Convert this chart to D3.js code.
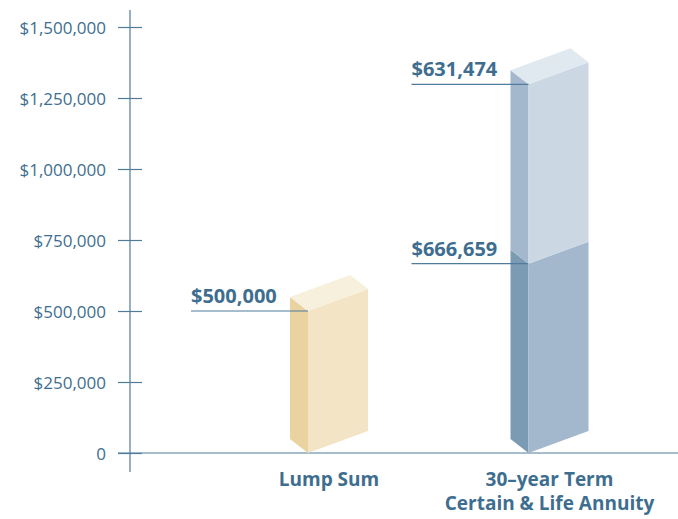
<!DOCTYPE html>
<html>
<head>
<meta charset="utf-8">
<script src="https://cdn.jsdelivr.net/npm/d3@7"></script>
<style>
  body { margin: 0; background: #fff; }
  svg { display: block; font-family: "Open Sans", "Noto Sans", sans-serif; }
</style>
</head>
<body>
<div id="chart"></div>
<script>
// values
const categories = ["Lump Sum", "30–year Term|Certain & Life Annuity"];
const lumpSum = [500000];
const annuity = [666659, 631474];   // bottom segment, top segment
const yTicks = [0, 250000, 500000, 750000, 1000000, 1250000, 1500000];

const width = 678, height = 519;
const textColor = "#3e6e8f";
const axisColor = "#4f7c9b";

// face colours per segment: front, side, top
const palettes = [
  [{ front: "#f2e4c5", side: "#e9d3a1", top: "#f7f0dd" }],
  [{ front: "#a3b8cc", side: "#7b9bb5", top: "#c0cfdd" },
   { front: "#cbd8e4", side: "#a3b8cc", top: "#e0e8f0" }]
];

const svg = d3.select("#chart").append("svg")
  .attr("width", width)
  .attr("height", height);

const y = d3.scaleLinear().domain([0, 1500000]).range([453, 27]);
const x = d3.scalePoint().domain(categories).range([329, 549.5]);

// box geometry (pseudo isometric)
const faceW = 60, faceRise = 22, sideW = 18, sideRise = 14;

// y axis
const yAxis = svg.append("g")
  .attr("transform", "translate(130,0)")
  .call(d3.axisLeft(y).tickValues(yTicks).tickSize(0)
    .tickFormat(d => d === 0 ? "0" : "$" + d3.format(",")(d)));
yAxis.select(".domain").remove();
yAxis.selectAll(".tick text")
  .attr("x", -24)
  .attr("dy", "0.36em")
  .style("font-size", "17px")
  .style("font-family", "\"Open Sans\", sans-serif")
  .attr("fill", textColor);
yAxis.selectAll(".tick").append("line")
  .attr("x1", -12).attr("x2", 12)
  .attr("stroke", axisColor).attr("stroke-width", 1.2);

svg.append("line")
  .attr("x1", 130).attr("x2", 130).attr("y1", 10).attr("y2", 472)
  .attr("stroke", axisColor).attr("stroke-width", 1.2);
svg.append("line")
  .attr("x1", 118).attr("x2", width).attr("y1", y(0)).attr("y2", y(0))
  .attr("stroke", axisColor).attr("stroke-width", 1.2);

// bars
const series = [lumpSum, annuity];
series.forEach((vals, i) => {
  const fx = x(categories[i]) - 39 + sideW;   // front vertical edge
  const g = svg.append("g");
  let acc = 0;
  vals.forEach((v, j) => {
    const y0 = y(acc), y1 = y(acc + v);
    acc += v;
    const c = palettes[i][j];
    g.append("polygon")
      .attr("points", [[fx - sideW, y0 - sideRise], [fx, y0], [fx, y1], [fx - sideW, y1 - sideRise]].join(" "))
      .attr("fill", c.side);
    g.append("polygon")
      .attr("points", [[fx, y0], [fx + faceW, y0 - faceRise], [fx + faceW, y1 - faceRise], [fx, y1]].join(" "))
      .attr("fill", c.front);
    if (j === vals.length - 1) {
      g.append("polygon")
        .attr("points", [[fx, y1], [fx + faceW, y1 - faceRise],
          [fx + faceW - sideW, y1 - faceRise - sideRise], [fx - sideW, y1 - sideRise]].join(" "))
        .attr("fill", c.top);
    }
    // value label and leader line
    g.append("line")
      .attr("x1", fx - 117).attr("x2", fx).attr("y1", y1).attr("y2", y1)
      .attr("stroke", axisColor).attr("stroke-width", 1.2);
    g.append("text")
      .attr("x", fx - 117).attr("y", y1 - 8)
      .attr("fill", textColor)
      .style("font-size", "20px").style("font-weight", "bold")
      .text("$" + d3.format(",")(v));
  });
});

// category labels
categories.forEach(c => {
  const t = svg.append("text")
    .attr("x", x(c)).attr("y", 486)
    .attr("text-anchor", "middle")
    .attr("fill", textColor)
    .style("font-size", "19px").style("font-weight", "bold");
  c.split("|").forEach((line, k) => {
    t.append("tspan").attr("x", x(c)).attr("dy", k === 0 ? 0 : 24).text(line);
  });
});
</script>
</body>
</html>
